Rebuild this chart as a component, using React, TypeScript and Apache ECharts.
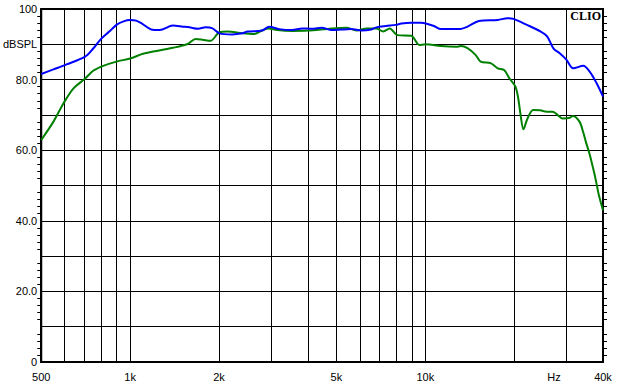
import React, { useEffect, useRef } from "react";
import * as echarts from "echarts";

const blueFreq = [500, 550, 609, 704, 750, 791, 850, 899, 950, 1000, 1048, 1100, 1179, 1259, 1396, 1509, 1588, 1700, 1800, 1902, 2008, 2220, 2400, 2500, 2800, 2960, 3200, 3540, 3830, 4130, 4460, 4820, 5210, 5620, 6070, 6560, 6820, 7360, 7950, 8300, 8960, 9680, 10050, 10700, 11300, 13000, 13900, 15200, 17600, 19000, 19900, 22100, 24600, 25900, 27200, 28600, 30100, 31700, 34300, 36100, 38100, 40000];
const blueDb = [81.6, 82.9, 84.3, 86.5, 88.8, 91.2, 93.6, 95.5, 96.5, 96.9, 96.7, 95.8, 94.2, 94.05, 95.3, 95.0, 94.8, 94.4, 94.8, 94.5, 93.1, 92.8, 93.1, 93.6, 93.9, 95.0, 94.3, 94.05, 94.5, 94.4, 94.7, 94.05, 94.2, 94.3, 93.9, 94.2, 94.8, 95.2, 95.5, 95.9, 96.1, 96.1, 95.9, 95.2, 94.3, 94.3, 95.0, 96.6, 96.9, 97.4, 97.2, 95.5, 93.6, 92.2, 88.8, 87.4, 85.6, 83.2, 83.9, 82.2, 78.9, 75.2];

const greenFreq = [500, 550, 595, 643, 704, 750, 811, 899, 1000, 1106, 1242, 1396, 1567, 1667, 1760, 1872, 2008, 2136, 2400, 2630, 2800, 2940, 3150, 3540, 4000, 4820, 5400, 5850, 6330, 6820, 7200, 7580, 8040, 8960, 9550, 10000, 11300, 12700, 13200, 13900, 14800, 15400, 16700, 17600, 18500, 19300, 20200, 20600, 21000, 21500, 22200, 23200, 24500, 25800, 27000, 29200, 30900, 31600, 33300, 34300, 35100, 36000, 37000, 37800, 38800, 40000];
const greenDb = [62.9, 68.1, 73.3, 77.5, 80.3, 82.5, 83.9, 85.1, 86.0, 87.3, 88.2, 89.0, 90.1, 91.5, 91.3, 91.0, 93.4, 93.6, 93.1, 92.9, 93.9, 94.5, 94.05, 93.8, 93.9, 94.5, 94.7, 93.9, 94.5, 94.5, 93.6, 94.5, 92.6, 92.4, 89.8, 90.0, 89.5, 89.3, 89.5, 88.9, 87.0, 85.1, 84.6, 83.2, 82.7, 80.3, 78.0, 75.2, 70.4, 65.9, 69.0, 71.4, 71.3, 70.9, 70.9, 69.0, 69.2, 69.7, 68.1, 65.0, 62.0, 59.0, 55.0, 51.6, 47.0, 43.0];

const gridFreqs = [600, 700, 800, 900, 1000, 2000, 3000, 4000, 5000, 6000, 7000, 8000, 9000, 10000, 20000, 30000];
const xLabelFreqs = [500, 1000, 2000, 5000, 10000, 27300, 40000];
const xLabelTexts = ["500", "1k", "2k", "5k", "10k", "Hz", "40k"];
const yLabelValues = [100, 90, 80, 60, 40, 20, 0];
const yLabelTexts = ["100", "dBSPL", "80.0", "60.0", "40.0", "20.0", "0"];

const FONT = "'Liberation Sans', Arial, sans-serif";

export default function App() {
  const ref = useRef<HTMLDivElement>(null);
  useEffect(() => {
    if (!ref.current) return;
    const chart = echarts.init(ref.current, null, { renderer: "svg" });
    const xFmt = (v: number) => {
      let best = -1;
      let bd = Infinity;
      xLabelFreqs.forEach((f, i) => {
        const d = Math.abs(Math.log10(v) - Math.log10(f));
        if (d < bd) { bd = d; best = i; }
      });
      return bd < 0.01 ? xLabelTexts[best] : "";
    };
    const yFmt = (v: number) => {
      const i = yLabelValues.indexOf(Math.round(v));
      return i >= 0 ? yLabelTexts[i] : "";
    };
    chart.setOption({
      animation: false,
      backgroundColor: "#fff",
      grid: {
        left: 38, right: 14, top: 9, bottom: 29,
        show: true, borderColor: "#000", borderWidth: 2, backgroundColor: "transparent",
      },
      xAxis: {
        type: "log", logBase: 10, min: 500, max: 40000,
        axisLine: { show: true, lineStyle: { color: "#000", width: 2 } },
        axisTick: { show: false, customValues: gridFreqs },
        splitLine: { show: true, lineStyle: { color: "#000", width: 1 } },
        minorTick: { show: false },
        minorSplitLine: { show: false },
        axisLabel: {
          customValues: xLabelFreqs, formatter: xFmt, color: "#000",
          fontFamily: FONT, fontSize: 11, margin: 9, showMinLabel: true, showMaxLabel: true, hideOverlap: false,
        },
      },
      yAxis: [
        {
          type: "value", min: 0, max: 100, interval: 10,
          axisLine: { show: true, lineStyle: { color: "#000", width: 2 } },
          axisTick: { show: false },
          minorTick: { show: true, splitNumber: 5, length: 4, lineStyle: { color: "#000", width: 1 } },
          splitLine: { show: true, lineStyle: { color: "#000", width: 1 } },
          axisLabel: { formatter: yFmt, color: "#000", fontFamily: FONT, fontSize: 11, margin: 4 },
        },
        {
          type: "value", min: 0, max: 100, interval: 10, position: "right",
          axisLine: { show: true, lineStyle: { color: "#000", width: 2 } },
          axisTick: { show: false },
          minorTick: { show: true, splitNumber: 5, length: 4, lineStyle: { color: "#000", width: 1 } },
          splitLine: { show: false },
          axisLabel: { show: false },
        },
      ],
      graphic: [
        {
          type: "text", right: 16, top: 10, z: 100,
          style: { text: "CLIO", font: "bold 12px 'Liberation Serif', serif", fill: "#000" },
        },
      ],
      series: [
        {
          type: "line", data: blueFreq.map((f, i) => [f, blueDb[i]]), showSymbol: false, smooth: 0.3,
          lineStyle: { color: "#0000ff", width: 2 }, z: 3,
        },
        {
          type: "line", data: greenFreq.map((f, i) => [f, greenDb[i]]), showSymbol: false, smooth: 0.3,
          lineStyle: { color: "#008000", width: 2 }, z: 2,
        },
      ],
    });
    return () => chart.dispose();
  }, []);
  return <div ref={ref} style={{ width: 617, height: 391, position: "absolute", left: 0, top: 0 }} />;
}
